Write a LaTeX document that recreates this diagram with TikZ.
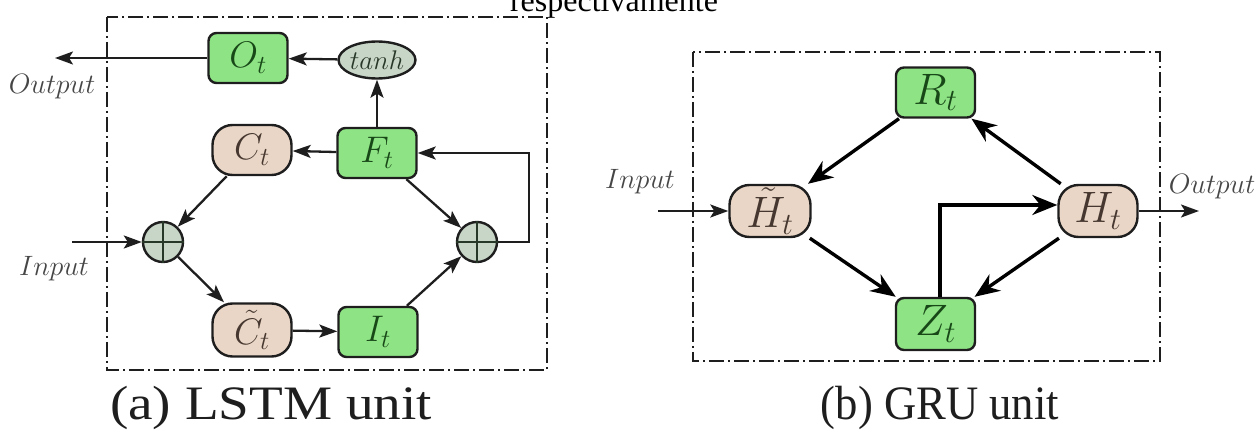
\RequirePackage{fix-cm}
\documentclass[tikz,border=0pt]{standalone}
\usepackage{fontspec}
\usepackage{graphicx}
\newfontfamily\capserif{Liberation Serif}
\usetikzlibrary{arrows.meta,shapes.geometric}

\definecolor{gatefill}{RGB}{142,228,132}
\definecolor{statefill}{RGB}{234,214,198}
\definecolor{opfill}{RGB}{200,214,200}
\definecolor{edgecol}{RGB}{30,30,30}
\definecolor{gatetext}{RGB}{24,72,24}
\definecolor{statetext}{RGB}{70,56,48}
\definecolor{optext}{RGB}{40,56,40}
\definecolor{labelgray}{RGB}{70,70,70}

\begin{document}
\begin{tikzpicture}[x=1pt,y=-1pt,
  frame/.style={draw=edgecol, line width=2.7pt, dash pattern=on 15pt off 4pt on 2pt off 4pt},
  gatebox/.style={draw=edgecol, line width=2.4pt, fill=gatefill, rounded corners=8pt,
    minimum width=79pt, minimum height=50pt, inner sep=0pt, text=gatetext},
  statebox/.style={draw=edgecol, line width=2.4pt, fill=statefill, rounded corners=20pt,
    minimum width=79pt, minimum height=50pt, inner sep=0pt, text=statetext},
  sumnode/.style={circle, draw=edgecol, line width=2.4pt, fill=opfill, minimum size=40pt, inner sep=0pt},
  plusline/.style={draw=optext, line width=1.6pt},
  lstmfont/.style={font=\fontsize{37}{37}\selectfont},
  grufont/.style={font=\fontsize{44}{44}\selectfont},
  iolabel/.style={text=labelgray, font=\fontsize{28}{28}\selectfont, inner sep=0pt},
  lstmarrow/.style={draw=edgecol, line width=2.3pt, -{Stealth[length=18pt,width=13pt,inset=4pt]}},
  gruarrow/.style={draw=black, line width=3.4pt, -{Stealth[length=25pt,width=20pt,inset=8pt]}},
  caption/.style={anchor=base, text=edgecol, font=\capserif\fontsize{48}{48}\selectfont, inner sep=0pt}
]
\useasboundingbox (0,0) rectangle (1256,430);

% running text above the figure
\node[anchor=base, inner sep=0pt, font=\capserif\fontsize{32}{32}\selectfont] (headline) at (614,12) {respectivamente};

% ---------------- LSTM unit ----------------
\draw[frame] (107,17) rectangle (547,370);

\node[gatebox, lstmfont] (Ot) at (248,58) {$O_t$};
\node[ellipse, draw=edgecol, line width=2.4pt, fill=opfill, minimum width=65pt, minimum height=37pt,
      inner sep=0pt, text=optext, font=\fontsize{27}{27}\selectfont] (tanh) at (377,60) {$tanh$};
\node[statebox, lstmfont] (Ct) at (252,150) {$C_t$};
\node[gatebox, lstmfont] (Ft) at (377,153) {$F_t$};
\node[sumnode] (pL) at (163,242) {};
\node[sumnode] (pR) at (477,242) {};
\node[statebox, lstmfont, minimum height=53pt] (Cc) at (252,330) {$\tilde{C}_t$};
\node[gatebox, lstmfont] (It) at (378,332) {$I_t$};

\draw[plusline] (pL.north) -- (pL.south) (pL.west) -- (pL.east);
\draw[plusline] (pR.north) -- (pR.south) (pR.west) -- (pR.east);

\node[iolabel] (outL) at (52,87) {$Output$};
\node[iolabel] (inL) at (54,269) {$Input$};
\coordinate (outTip) at (55,58);
\coordinate (inStart) at (72,242);
\coordinate (fb) at (529,242);

\draw[lstmarrow] (tanh) -- (Ot);
\draw[lstmarrow] (Ot) -- (outTip);
\draw[lstmarrow] (Ft) -- (tanh);
\draw[lstmarrow] (Ft) -- (Ct);
\draw[lstmarrow] (Ct) -- (pL);
\draw[lstmarrow] (inStart) -- (pL);
\draw[lstmarrow] (pL) -- (Cc);
\draw[lstmarrow] (Cc) -- (It);
\draw[lstmarrow] (It) -- (pR);
\draw[lstmarrow] (Ft) -- (pR);
\draw[lstmarrow] (pR.east) -- (fb) |- (Ft.east);

\node[caption] (capA) at (271,419) {\scalebox{1.15}[1]{(a) LSTM unit}};

% ---------------- GRU unit ----------------
\draw[frame] (693,52) rectangle (1160,361);

\node[gatebox, grufont] (Rt) at (935.5,92.5) {$R_t$};
\node[statebox, grufont, minimum width=81pt, minimum height=52pt] (Hc) at (770,211) {$\tilde{H}_t$};
\node[statebox, grufont, minimum width=79pt, minimum height=52pt] (Ht) at (1098,211) {$H_t$};
\node[gatebox, grufont, minimum height=52pt] (Zt) at (935.5,324) {$Z_t$};

\node[iolabel] (inR) at (640,182) {$Input$};
\node[iolabel] (outR) at (1212,187) {$Output$};
\coordinate (inStartR) at (658,211);
\coordinate (outTipR) at (1199,211);
\coordinate (zh) at (940,205);

\draw[lstmarrow] (inStartR) -- (Hc);
\draw[lstmarrow] (Ht) -- (outTipR);
\draw[gruarrow] (Rt) -- (Hc);
\draw[gruarrow] (Ht) -- (Rt);
\draw[gruarrow] (Hc) -- (Zt);
\draw[gruarrow] (Ht) -- (Zt);
\draw[gruarrow] (Zt.north -| zh) -- (zh) -- (Ht.west |- zh);

\node[caption] (capB) at (940,419) {\scalebox{0.93}[1]{(b) GRU unit}};
\end{tikzpicture}
\end{document}
